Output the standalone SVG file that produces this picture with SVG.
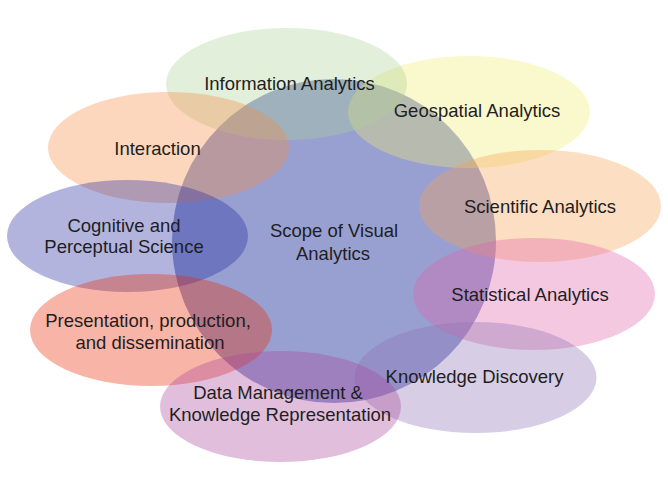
<svg xmlns="http://www.w3.org/2000/svg" width="668" height="480" viewBox="0 0 668 480">
<style>
.lbl{font-family:"Liberation Sans",Arial,sans-serif;font-size:18.5px;fill:#1e1e1e;text-anchor:middle}
.el{fill-opacity:0.35}
</style>
<rect width="668" height="480" fill="#ffffff"/>
<g id="scope">
<circle cx="334" cy="241" r="162" fill="#98a0d2"/>
<text class="lbl" x="334" y="237">Scope of Visual</text>
<text class="lbl" x="333" y="260">Analytics</text>
</g>
<g id="geospatial">
<ellipse class="el" cx="469" cy="112" rx="121" ry="56" fill="#f1eb70"/>
<text class="lbl" x="477" y="117">Geospatial Analytics</text>
</g>
<g id="information">
<ellipse class="el" cx="286.5" cy="84" rx="120.5" ry="56" fill="#acd195"/>
<text class="lbl" x="289.5" y="90">Information Analytics</text>
</g>
<g id="interaction">
<ellipse class="el" cx="168.5" cy="147.5" rx="120.5" ry="55.5" fill="#f68d45"/>
<text class="lbl" x="157.5" y="155">Interaction</text>
</g>
<g id="scientific">
<ellipse class="el" cx="540" cy="206" rx="121" ry="56" fill="#f6a154"/>
<text class="lbl" x="540" y="213">Scientific Analytics</text>
</g>
<g id="cognitive">
<ellipse class="el" cx="127.5" cy="236" rx="120.5" ry="56" fill="#2329a1"/>
<text class="lbl" x="124" y="232">Cognitive and</text>
<text class="lbl" x="124" y="253">Perceptual Science</text>
</g>
<g id="statistical">
<ellipse class="el" cx="534" cy="294" rx="121" ry="56" fill="#e262a9"/>
<text class="lbl" x="530" y="301">Statistical Analytics</text>
</g>
<g id="presentation">
<ellipse class="el" cx="151" cy="330" rx="121" ry="56" fill="#eb2900"/>
<text class="lbl" x="148" y="327">Presentation, production,</text>
<text class="lbl" x="150" y="349">and dissemination</text>
</g>
<g id="knowledge-discovery">
<ellipse class="el" cx="475.5" cy="377.5" rx="121" ry="55.5" fill="#8d70b2"/>
<text class="lbl" x="474.5" y="383">Knowledge Discovery</text>
</g>
<g id="data-management">
<ellipse class="el" cx="280.5" cy="406.5" rx="120.5" ry="55.5" fill="#a9459b"/>
<text class="lbl" x="278" y="399">Data Management &amp;</text>
<text class="lbl" x="280" y="421">Knowledge Representation</text>
</g>
</svg>
